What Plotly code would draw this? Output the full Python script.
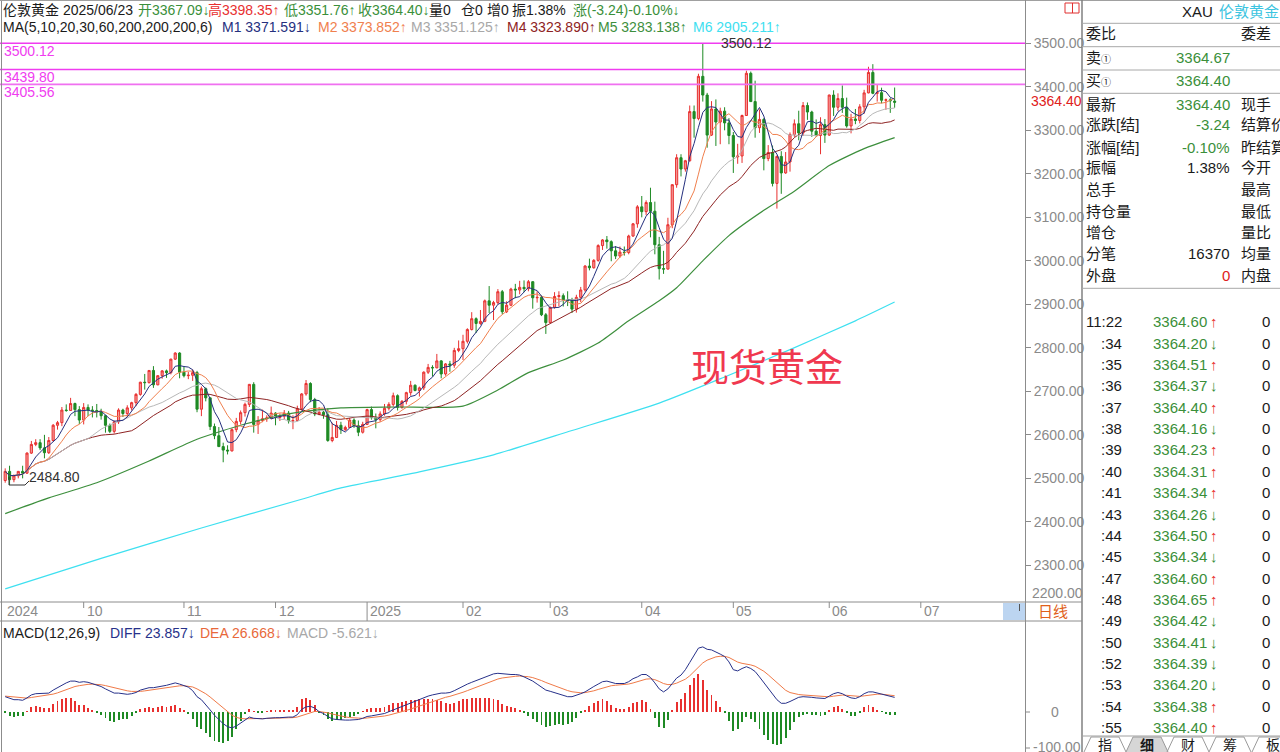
import pandas as pd
import plotly.graph_objects as go

W, H = 1280, 752
LATIN = "Liberation Sans, Arial, Noto Sans CJK SC, sans-serif"

# Daily candles of London gold, 2024-09-05 .. 2025-06-23 (index 0 .. 204)
opens = [
    2495, 2516, 2497, 2506, 2516, 2512, 2558, 2578, 2582, 2570,
    2559, 2587, 2622, 2628, 2657, 2656, 2672, 2658, 2634, 2663,
    2657, 2656, 2653, 2644, 2622, 2608, 2630, 2657, 2649, 2662,
    2674, 2693, 2721, 2720, 2748, 2715, 2736, 2747, 2743, 2774,
    2788, 2744, 2736, 2737, 2743, 2659, 2706, 2685, 2619, 2598,
    2573, 2565, 2563, 2612, 2631, 2651, 2670, 2716, 2624, 2633,
    2637, 2639, 2650, 2640, 2643, 2650, 2632, 2633, 2660, 2694,
    2718, 2681, 2648, 2652, 2646, 2587, 2594, 2622, 2612, 2617,
    2634, 2621, 2606, 2624, 2658, 2640, 2635, 2648, 2661, 2670,
    2690, 2663, 2677, 2697, 2714, 2702, 2708, 2744, 2755, 2754,
    2770, 2740, 2763, 2760, 2794, 2798, 2815, 2842, 2867, 2856,
    2861, 2908, 2898, 2904, 2929, 2883, 2898, 2935, 2933, 2939,
    2936, 2952, 2915, 2916, 2876, 2858, 2893, 2918, 2920, 2910,
    2909, 2889, 2916, 2933, 2988, 2984, 3001, 3035, 3048, 3044,
    3023, 3011, 3020, 3019, 3057, 3085, 3124, 3113, 3134, 3114,
    3037, 2982, 2981, 3083, 3175, 3237, 3211, 3230, 3343, 3327,
    3424, 3381, 3289, 3349, 3319, 3344, 3317, 3288, 3239, 3241,
    3334, 3431, 3366, 3306, 3325, 3235, 3249, 3178, 3240, 3202,
    3227.2, 3290, 3315, 3294, 3357, 3342, 3298, 3287.98, 3313, 3289,
    3381, 3353, 3373, 3353, 3310, 3326, 3322.565, 3354, 3386, 3433,
    3385, 3386.555, 3369, 3370, 3367.09,
]
highs = [
    2523, 2529, 2509, 2517, 2529, 2560, 2586, 2590, 2590, 2600,
    2595, 2625, 2632, 2664, 2670, 2685, 2674, 2666, 2673, 2670,
    2666, 2671, 2660, 2646, 2626, 2633, 2661, 2660, 2668, 2676,
    2696, 2722, 2740, 2749, 2758, 2737, 2749, 2750, 2775, 2790,
    2790, 2757, 2745, 2750, 2747, 2711, 2709, 2686, 2626, 2618,
    2582, 2576, 2615, 2639, 2656, 2674, 2717, 2721, 2643, 2658,
    2645, 2665, 2652, 2649, 2657, 2655, 2645, 2667, 2696, 2726,
    2721, 2685, 2664, 2655, 2661, 2628, 2632, 2630, 2621, 2639,
    2638, 2633, 2630, 2660, 2665, 2649, 2654, 2671, 2675, 2697,
    2693, 2680, 2699, 2724, 2716, 2711, 2746, 2763, 2760, 2786,
    2772, 2765, 2770, 2800, 2817, 2830, 2845, 2882, 2870, 2887,
    2911, 2942, 2908, 2935, 2933, 2907, 2938, 2947, 2954, 2955,
    2956, 2953, 2930, 2920, 2880, 2895, 2928, 2930, 2925, 2930,
    2915, 2922, 2940, 2990, 3005, 3004, 3038, 3050, 3057, 3047,
    3034, 3033, 3033, 3060, 3087, 3128, 3149, 3139, 3168, 3136,
    3055, 3023, 3099, 3176, 3245, 3245, 3232, 3357, 3357, 3430,
    3500.12, 3386, 3367, 3371, 3352, 3353, 3328, 3296, 3269, 3336,
    3437, 3435, 3414, 3348, 3328, 3266, 3265, 3242, 3252, 3250,
    3295, 3325, 3345, 3365, 3364, 3345, 3325, 3330, 3326, 3382,
    3392, 3385, 3403, 3375, 3338, 3349, 3360, 3393, 3446, 3452,
    3404, 3398, 3373, 3374, 3398.35,
]
lows = [
    2490, 2484.8, 2491, 2500, 2500, 2510, 2556, 2574, 2565, 2546,
    2556, 2585, 2612, 2620, 2653, 2655, 2643, 2625, 2624, 2643,
    2640, 2640, 2635, 2605, 2604, 2603, 2625, 2641, 2640, 2656,
    2666, 2690, 2704, 2718, 2708, 2714, 2729, 2731, 2739, 2772,
    2730, 2732, 2728, 2724, 2652, 2643, 2677, 2611, 2590, 2572,
    2537, 2555, 2562, 2606, 2624, 2642, 2664, 2605, 2602, 2629,
    2630, 2636, 2622, 2632, 2636, 2626, 2613, 2631, 2656, 2690,
    2675, 2643, 2645, 2637, 2584, 2583, 2593, 2602, 2609, 2617,
    2616, 2597, 2603, 2624, 2635, 2615, 2630, 2644, 2656, 2665,
    2656, 2660, 2670, 2690, 2700, 2688, 2703, 2740, 2734, 2753,
    2730, 2736, 2745, 2754, 2790, 2772, 2810, 2840, 2834, 2853,
    2859, 2880, 2864, 2900, 2877, 2880, 2896, 2914, 2923, 2928,
    2930, 2890, 2904, 2873, 2832, 2857, 2890, 2895, 2895, 2896,
    2880, 2881, 2905, 2929, 2978, 2982, 2998, 3025, 3028, 2999,
    3004, 3007, 3012, 3015, 3055, 3076, 3100, 3105, 3054, 3015,
    2957, 2970, 2980, 3075, 3168, 3194, 3205, 3228, 3283, 3323,
    3366, 3260, 3287, 3264, 3268, 3300, 3268, 3202, 3223, 3225,
    3333, 3365, 3283, 3294, 3208, 3229, 3171, 3120, 3154, 3200,
    3205, 3285, 3277, 3287, 3324, 3285, 3285, 3245, 3271, 3287,
    3333, 3344, 3340, 3306, 3293, 3314, 3316, 3338, 3385, 3383,
    3366, 3362, 3347, 3340, 3351.76,
]
closes = [
    2516, 2497, 2506, 2516, 2512, 2558, 2578, 2582, 2570, 2559,
    2587, 2622, 2628, 2657, 2656, 2672, 2658, 2634, 2663, 2657,
    2656, 2653, 2644, 2622, 2608, 2630, 2657, 2649, 2662, 2674,
    2693, 2721, 2720, 2748, 2715, 2736, 2747, 2743, 2774, 2788,
    2744, 2736, 2737, 2743, 2659, 2706, 2685, 2619, 2598, 2573,
    2565, 2563, 2612, 2631, 2651, 2670, 2716, 2624, 2633, 2637,
    2639, 2650, 2640, 2643, 2650, 2632, 2633, 2660, 2694, 2718,
    2681, 2648, 2652, 2646, 2587, 2594, 2622, 2612, 2617, 2634,
    2621, 2606, 2624, 2658, 2640, 2635, 2648, 2661, 2670, 2690,
    2663, 2677, 2697, 2714, 2702, 2708, 2744, 2755, 2754, 2770,
    2740, 2763, 2760, 2794, 2798, 2815, 2842, 2867, 2856, 2861,
    2908, 2898, 2904, 2929, 2883, 2898, 2935, 2933, 2939, 2936,
    2952, 2915, 2916, 2876, 2858, 2893, 2918, 2920, 2910, 2909,
    2889, 2916, 2933, 2988, 2984, 3001, 3035, 3048, 3044, 3023,
    3011, 3020, 3019, 3057, 3085, 3124, 3113, 3134, 3114, 3037,
    2982, 2981, 3083, 3175, 3237, 3211, 3230, 3343, 3327, 3424,
    3381, 3289, 3349, 3319, 3344, 3317, 3288, 3239, 3241, 3334,
    3431, 3366, 3306, 3325, 3235, 3249, 3178, 3240, 3202, 3227.2,
    3290, 3315, 3294, 3357, 3342, 3298, 3287.98, 3313, 3289, 3381,
    3353, 3373, 3353, 3310, 3326, 3322.565, 3354, 3386, 3433, 3385,
    3386.555, 3369, 3370, 3368, 3364.40,
]

# Slow averages (60 / 200 days), level at selected candle indexes
ma60_at = [0, 10, 21, 33, 44, 55, 66, 77, 90, 105, 113, 120, 128, 136, 143,
           150, 154, 160, 166, 174, 181, 189, 197, 204]
ma60_val = [2419, 2455, 2490, 2540, 2590, 2625, 2650, 2662, 2664, 2666, 2703,
            2743, 2772, 2811, 2862, 2908, 2938, 3000, 3058, 3116, 3160, 3219,
            3258, 3283.138]
ma200_at = [0, 22, 45, 68, 77, 95, 112, 130, 150, 165, 180, 195, 204]
ma200_val = [2246, 2316, 2386, 2452, 2478, 2515, 2554, 2610, 2673, 2733, 2796,
             2862, 2905.211]

# MACD(12,26,9) lines
diff = [
    25, 22, 20, 20, 19, 23, 28, 30, 30, 30,
    31, 36, 40, 45, 48, 51, 51, 49, 50, 49,
    47, 45, 42, 38, 34, 31, 31, 30, 29, 30,
    32, 36, 38, 40, 40, 41, 43, 44, 46, 48,
    46, 44, 41, 35, 25, 20, 12, 3, -6, -13,
    -20, -25, -27, -24, -19, -14, -9, -11, -12, -12,
    -11, -10, -10, -10, -9, -9, -9, -5, 4, 8,
    9, 6, 0, -3, -8, -12, -13, -14, -14, -14,
    -14, -13, -11, -8, -7, -6, -5, -3, 0, 3,
    5, 8, 11, 14, 17, 20, 23, 26, 28, 30,
    31, 31, 32, 35, 39, 43, 46, 49, 52, 55,
    58, 61, 63, 64, 63, 62, 62, 62, 61, 58,
    55, 51, 46, 41, 36, 34, 32, 30, 27, 25,
    25, 27, 30, 33, 38, 42, 46, 50, 51, 49,
    47, 47, 47, 50, 55, 58, 62, 62, 57, 48,
    38, 33, 38, 47, 56, 61, 70, 82, 95, 106,
    108, 104, 103, 100, 96, 92, 83, 70, 68, 72,
    75, 72, 67, 58, 48, 38, 28, 20, 14, 14,
    17, 21, 24, 25, 25, 24, 23, 22, 22, 26,
    30, 32, 30, 26, 23, 22, 25, 30, 33, 33,
    31, 29, 27, 25, 23.857,
]
dea = [
    26, 25.2, 24.2, 23.3, 22.5, 22.6, 23.7, 24.9, 25.9, 26.7,
    27.6, 29.3, 31.4, 34.1, 36.9, 39.7, 42.0, 43.4, 44.7, 45.6,
    45.9, 45.7, 44.9, 43.5, 41.6, 39.5, 37.8, 36.2, 34.8, 33.8,
    33.4, 33.9, 34.7, 35.8, 36.6, 37.5, 38.6, 39.7, 41.0, 42.4,
    43.1, 43.3, 42.8, 41.2, 38.0, 34.4, 29.9, 24.5, 18.4, 12.1,
    5.7, -0.4, -5.7, -9.4, -11.3, -11.8, -11.3, -11.2, -11.4, -11.5,
    -11.4, -11.1, -10.9, -10.7, -10.4, -10.1, -9.9, -8.9, -6.3, -3.5,
    -1.0, 0.4, 0.3, -0.4, -1.9, -3.9, -5.7, -7.4, -8.7, -9.8,
    -10.6, -11.1, -11.1, -10.5, -9.8, -9.0, -8.2, -7.2, -5.7, -4.0,
    -2.2, -0.2, 2.1, 4.5, 7.0, 9.6, 12.3, 15.0, 17.6, 20.1,
    22.3, 24.0, 25.6, 27.5, 29.8, 32.4, 35.1, 37.9, 40.7, 43.6,
    46.5, 49.4, 52.1, 54.5, 56.2, 57.4, 58.3, 59.0, 59.4, 59.1,
    58.3, 56.8, 54.7, 51.9, 48.7, 45.8, 43.0, 40.4, 37.7, 35.2,
    33.2, 31.9, 31.5, 31.8, 33.1, 34.8, 37.1, 39.6, 41.9, 43.3,
    44.1, 44.6, 45.1, 46.1, 47.9, 49.9, 52.3, 54.3, 54.8, 53.4,
    50.4, 46.9, 45.1, 45.5, 47.6, 50.3, 54.2, 59.8, 66.8, 74.6,
    81.3, 85.9, 89.3, 91.4, 92.4, 92.3, 90.4, 86.4, 82.7, 80.6,
    79.5, 78.0, 75.8, 72.2, 67.4, 61.5, 54.8, 47.8, 41.1, 35.7,
    31.9, 29.8, 28.6, 27.9, 27.3, 26.7, 25.9, 25.2, 24.5, 24.8,
    25.9, 27.1, 27.7, 27.3, 26.5, 25.6, 25.5, 26.4, 27.7, 28.8,
    29.2, 29.2, 28.7, 28.0, 26.66751,
]

# Month boundaries on the time strip (candle index of first session)
month_at = [0, 18, 41, 62, 83, 105, 125, 146, 167, 189, 210]
month_txt = ["2024", "10", "11", "12", "2025", "02", "03", "04", "05", "06", "07"]

price_ticks = [2300, 2400, 2500, 2600, 2700, 2800, 2900, 3000, 3100, 3200, 3300, 3400, 3500]
mark_levels = [3500.12, 3439.80, 3405.56]

# Tick-by-tick list on the quote panel
tick_times = ["11:22", ":34", ":35", ":36", ":37", ":38", ":39", ":40", ":41", ":43",
              ":44", ":45", ":47", ":48", ":49", ":50", ":52", ":53", ":54", ":55"]
tick_prices = [3364.60, 3364.20, 3364.51, 3364.37, 3364.40, 3364.16, 3364.23, 3364.31,
               3364.34, 3364.26, 3364.50, 3364.34, 3364.60, 3364.65, 3364.42, 3364.41,
               3364.39, 3364.20, 3364.38, 3364.40]
tick_dirs = ["up", "down", "up", "down", "up", "down", "up", "up", "up", "down",
             "up", "down", "up", "up", "down", "down", "down", "down", "up", "up"]
tick_vols = [0] * 20

# ---------------------------------------------------------------- derived
idx = list(range(len(closes)))
cs = pd.Series(closes, dtype=float)
ma_short = {n: cs.rolling(n, min_periods=1).mean().tolist() for n in (5, 10, 20, 30)}
hist = [2 * (a - b) for a, b in zip(diff, dea)]

# ---------------------------------------------------------------- colours
UP = "#e8302f"
UP_FILL = "#f49a9a"
DN = "#1e8a24"
TXT = "#1a1a1a"
GRN = "#3a8f3a"
AX = "#8a8a8a"
MAG = "#f03cf0"
C_MA = {5: "#25307e", 10: "#f0804e", 20: "#b8b8b8", 30: "#8e2323", 60: "#3d8f3d", 200: "#3ee0f0"}

# pixel helpers (figure is W x H with no margins)
def fx(px):
    return px / W

def fy(py):
    return 1 - py / H

PLOT_R = 1025
X0, X1 = -1.193, 233.9
Y_TOP, Y_BOT = 3599.5, 2220.4
M_TOP, M_BOT = 151.2, -67.2

fig = go.Figure()

fig.add_trace(go.Candlestick(
    x=idx, open=opens, high=highs, low=lows, close=closes,
    increasing=dict(line=dict(color=UP, width=1), fillcolor=UP_FILL),
    decreasing=dict(line=dict(color=DN, width=1), fillcolor=DN),
    whiskerwidth=0, hoverinfo="skip", xaxis="x", yaxis="y",
))
for n in (200, 60):
    at, val = (ma200_at, ma200_val) if n == 200 else (ma60_at, ma60_val)
    fig.add_trace(go.Scatter(x=at, y=val, mode="lines", line=dict(color=C_MA[n], width=1.2, shape="spline", smoothing=0.6),
                             hoverinfo="skip", xaxis="x", yaxis="y"))
for n in (30, 20, 10, 5):
    fig.add_trace(go.Scatter(x=idx, y=ma_short[n], mode="lines", line=dict(color=C_MA[n], width=1),
                             hoverinfo="skip", xaxis="x", yaxis="y"))

fig.add_trace(go.Bar(x=idx, y=hist, width=0.22,
                     marker=dict(color=[UP if v >= 0 else DN for v in hist], line=dict(width=0)),
                     hoverinfo="skip", xaxis="x2", yaxis="y2"))
fig.add_trace(go.Scatter(x=idx, y=dea, mode="lines", line=dict(color="#f07a48", width=1),
                         hoverinfo="skip", xaxis="x2", yaxis="y2"))
fig.add_trace(go.Scatter(x=idx, y=diff, mode="lines", line=dict(color="#27318a", width=1),
                         hoverinfo="skip", xaxis="x2", yaxis="y2"))

shapes = []
annotations = []

def line(x0, y0, x1, y1, color="#9a9a9a", width=1):
    shapes.append(dict(type="line", xref="paper", yref="paper", x0=fx(x0), y0=fy(y0), x1=fx(x1), y1=fy(y1),
                       line=dict(color=color, width=width), layer="above"))

def label(x, y, text, color=TXT, size=14, xanchor="left", family=LATIN):
    annotations.append(dict(x=fx(x), y=fy(y), xref="paper", yref="paper", text=text, showarrow=False,
                            xanchor=xanchor, yanchor="middle", borderpad=0,
                            font=dict(family=family, size=size, color=color)))

# support / resistance marks
for lv in mark_levels:
    wide = lv == 3405.56
    shapes.append(dict(type="line", xref="paper", yref="y", x0=0, x1=fx(PLOT_R), y0=lv, y1=lv, layer="above",
                       line=dict(color="#f070f0" if wide else MAG, width=1.8 if wide else 1.3)))
    annotations.append(dict(x=fx(3), y=lv, xref="paper", yref="y", text=f"{lv:.2f}", showarrow=False,
                            xanchor="left", yanchor="middle", yshift=-8, borderpad=0,
                            font=dict(family=LATIN, size=14, color=MAG)))

# high / low callouts
hi_i = highs.index(max(highs))
lo_i = lows.index(min(lows))
annotations.append(dict(x=hi_i, y=highs[hi_i], xref="x", yref="y", text=f"{highs[hi_i]:.2f}", showarrow=False,
                        xanchor="left", yanchor="middle", xshift=17, borderpad=0,
                        font=dict(family=LATIN, size=14, color="#333333")))
annotations.append(dict(x=lo_i, y=lows[lo_i], xref="x", yref="y", text=f"{lows[lo_i]:.2f}", showarrow=False,
                        xanchor="left", yanchor="middle", xshift=18, yshift=8, borderpad=0,
                        font=dict(family=LATIN, size=14, color="#333333")))
shapes.append(dict(type="path", xref="paper", yref="paper",
                   path=f"M {fx(9)} {fy(477)} L {fx(9)} {fy(485)} L {fx(25)} {fy(485)} L {fx(29)} {fy(481)}",
                   line=dict(color="#333333", width=1)))

# pane frames
line(1.5, 0, 1.5, H, "#8c8c8c")
line(0, 0.5, W, 0.5, "#a0a0a0")
line(PLOT_R + 0.5, 0, PLOT_R + 0.5, H, "#8c8c8c")
line(1082, 0, 1082, H, "#808080", 1.5)
line(0, 602, 1082, 602, "#8c8c8c")
line(0, 621, 1082, 621, "#8c8c8c")

# time strip
shapes.append(dict(type="rect", xref="paper", yref="paper", x0=fx(1003), x1=fx(1025), y0=fy(620), y1=fy(603),
                   fillcolor="#bcd5f1", line=dict(width=0)))
line(1019.5, 604, 1019.5, 611, "#555555")
for at, t in zip(month_at, month_txt):
    if at > 0:
        full = t == "2025"
        shapes.append(dict(type="line", xref="x", yref="paper", x0=at, x1=at, y0=fy(602), y1=fy(621 if full else 608),
                           line=dict(color="#8c8c8c", width=1)))
    annotations.append(dict(x=at, y=fy(611), xref="x", yref="paper", text=t, showarrow=False, xanchor="left",
                            yanchor="middle", xshift=2 if at > 0 else 1, borderpad=0,
                            font=dict(family=LATIN, size=14, color=AX)))
label(1053, 611, "日线", "#e0601a", 15, "center")

# price axis extras
label(1030, 101, f"{closes[-1]:.2f}", "#e02020", 14)
label(1031, 593, "2200.00", AX, 14)
line(1025, 712, 1030, 712, AX)
label(1055, 712, "0", AX, 14, "center")
line(1025, 748, 1030, 748, AX)
label(1032, 747, "-100.00", AX, 14)

# header lines
o, hgh, lw, c = opens[-1], highs[-1], lows[-1], closes[-1]
head1 = [
    (2, "伦敦黄金 2025/06/23", TXT), (137, f"开{o:.2f}↓", GRN), (207, f"高{hgh:.2f}↑", "#e83030"),
    (283, f"低{lw:.2f}↑", GRN), (357, f"收{c:.2f}↓", GRN), (428, "量0", TXT), (460, "仓0", TXT),
    (486, "增0", TXT), (511, "振1.38%", TXT), (572, "涨(-3.24)-0.10%↓", GRN),
]
for x, t, col in head1:
    label(x, 10, t, col, 14)
ma_vals = [ma_short[5][-1], ma_short[10][-1], ma_short[20][-1], ma_short[30][-1], ma60_val[-1], ma200_val[-1]]
head2 = [(2, "MA(5,10,20,30,60,200,200,200,6)", TXT)]
head_x = [221, 316.5, 410, 506, 597, 692]
head_c = [C_MA[5], C_MA[10], "#a8a8a8", C_MA[30], C_MA[60], C_MA[200]]
head_arrow = ["↓", "↑", "↑", "↑", "↑", "↑"]
for k in range(6):
    head2.append((head_x[k], f"M{k + 1} {ma_vals[k]:.3f}{head_arrow[k]}", head_c[k]))
for x, t, col in head2:
    label(x, 27, t, col, 14)

# MACD header
label(2, 633, "MACD(12,26,9)", TXT, 14)
label(109, 633, f"DIFF {diff[-1]:.3f}↓", "#27318a", 14)
label(199, 633, f"DEA {dea[-1]:.3f}↓", "#e8683a", 14)
label(286, 633, f"MACD {hist[-1]:.3f}↓", "#a8a8a8", 14)

# watermark title
label(767, 368, "现货黄金", "#f0384f", 38, "center")

# top-right icon
shapes.append(dict(type="rect", xref="paper", yref="paper", x0=fx(1065), x1=fx(1079), y0=fy(13), y1=fy(3),
                   line=dict(color="#e03030", width=1)))
line(1072.5, 3, 1072.5, 13, "#e03030")

# quote panel
label(1181, 12, "XAU", TXT, 15)
label(1218, 12, "伦敦黄金", "#3cc4e0", 15)
for yy in (23.3, 46.7, 70, 93.3, 288.3):
    line(1082, yy, W, yy, "#a8a8a8")
panel_left = ["委比", "卖<span style='font-size:10px'>①</span>", "买<span style='font-size:10px'>①</span>",
              "最新", "涨跌[结]", "涨幅[结]", "振幅", "总手", "持仓量", "增仓", "分笔", "外盘"]
panel_y = [33, 57, 80, 104, 125, 147, 168, 189, 211, 232, 253, 275]
panel_val = ["", "3364.67", "3364.40", "3364.40", "-3.24", "-0.10%", "1.38%", "", "", "", "16370", "0"]
panel_val_c = [TXT, GRN, GRN, GRN, GRN, GRN, TXT, TXT, TXT, TXT, TXT, "#e02020"]
panel_right = ["委差", "", "", "现手", "结算价", "昨结算", "今开", "最高", "最低", "量比", "均量", "内盘"]
for t, yy, v, vc, r in zip(panel_left, panel_y, panel_val, panel_val_c, panel_right):
    label(1085, yy, t, TXT, 15)
    if v:
        label(1231, yy, v, vc, 15, "right")
    if r:
        label(1240, yy, r, TXT, 15)

for k, (tm, pr, d, vol) in enumerate(zip(tick_times, tick_prices, tick_dirs, tick_vols)):
    yy = 321.7 + 21.37 * k
    label(1123, yy, tm, TXT, 15, "right")
    label(1208, yy, f"{pr:.2f}", GRN, 15, "right")
    label(1208.5, yy, "↑" if d == "up" else "↓", "#e83030" if d == "up" else GRN, 15)
    label(1271, yy, str(vol), TXT, 15, "right")

# panel tabs
line(1082, 736, W, 736, "#a0a0a0")
for cx, t in zip([1105, 1147, 1188, 1230, 1273], ["指", "细", "财", "筹", "板"]):
    sel = t == "细"
    shapes.append(dict(type="path", xref="paper", yref="paper",
                       path=f"M {fx(cx - 21)} {fy(752)} L {fx(cx - 14)} {fy(737)} L {fx(cx + 14)} {fy(737)} L {fx(cx + 21)} {fy(752)}",
                       fillcolor="#d6d6d6" if sel else "rgba(0,0,0,0)", line=dict(color="#9a9a9a", width=1), layer="below"))
    label(cx, 745, f"<b>{t}</b>" if sel else t, TXT, 14, "center")

fig.update_layout(
    width=W, height=H, margin=dict(l=0, r=0, t=0, b=0),
    paper_bgcolor="white", plot_bgcolor="white", showlegend=False,
    hovermode=False, dragmode=False, bargap=0,
    xaxis=dict(domain=[0, fx(PLOT_R)], range=[X0, X1], visible=False, rangeslider=dict(visible=False),
               anchor="y", fixedrange=True),
    yaxis=dict(domain=[fy(600), 1], range=[Y_BOT, Y_TOP], side="right", anchor="x",
               tickvals=price_ticks, ticktext=[f"{v:.2f}" for v in price_ticks],
               ticks="outside", ticklen=5, tickcolor=AX, tickfont=dict(family=LATIN, size=14, color=AX),
               showgrid=False, zeroline=False, showline=False, fixedrange=True),
    xaxis2=dict(domain=[0, fx(PLOT_R)], range=[X0, X1], visible=False, anchor="y2", fixedrange=True),
    yaxis2=dict(domain=[0, fy(621)], range=[M_BOT, M_TOP], visible=False, anchor="x2", fixedrange=True),
    shapes=shapes, annotations=annotations,
)

fig.write_html("out.html")
